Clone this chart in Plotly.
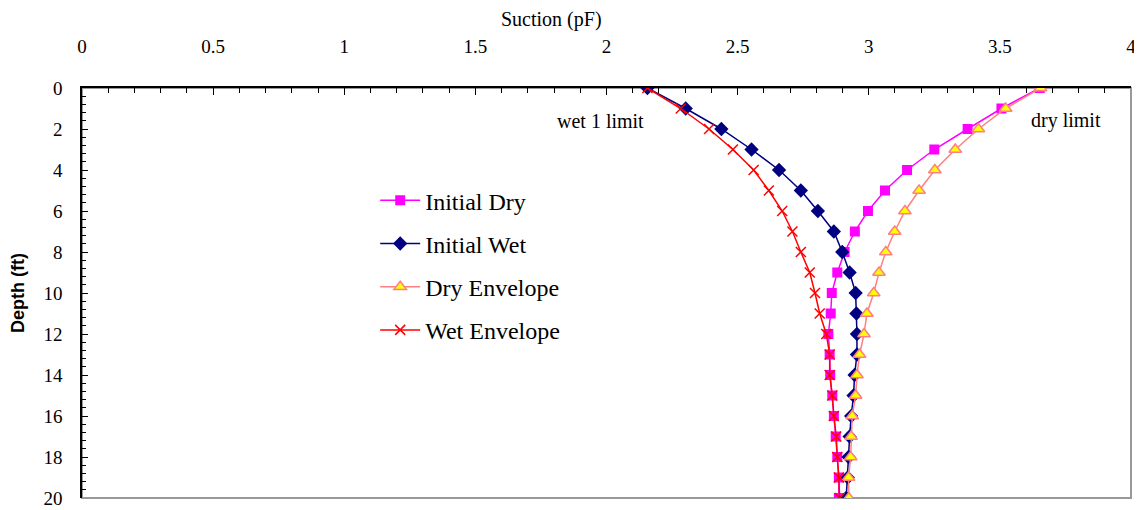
import plotly.graph_objects as go

depth = list(range(0, 21))

initial_dry = [3.652, 3.506, 3.377, 3.250, 3.146, 3.062, 2.997, 2.947, 2.908, 2.880,
               2.859, 2.855, 2.846, 2.851, 2.853, 2.861, 2.867, 2.874, 2.880, 2.886, 2.886]
initial_wet = [2.156, 2.302, 2.438, 2.553, 2.658, 2.741, 2.806, 2.867, 2.899, 2.927,
               2.950, 2.953, 2.955, 2.955, 2.946, 2.942, 2.933, 2.927, 2.923, 2.920, 2.914]
dry_envelope = [3.655, 3.522, 3.418, 3.330, 3.252, 3.192, 3.138, 3.099, 3.065, 3.039,
                3.019, 2.993, 2.982, 2.965, 2.955, 2.950, 2.937, 2.933, 2.931, 2.923, 2.924]
wet_envelope = [2.156, 2.283, 2.391, 2.482, 2.561, 2.619, 2.670, 2.709, 2.741, 2.775,
                2.795, 2.813, 2.838, 2.851, 2.851, 2.861, 2.867, 2.876, 2.880, 2.886, 2.889]

x_ticks = [0, 0.5, 1, 1.5, 2, 2.5, 3, 3.5, 4]
x_tick_text = ["0", "0.5", "1", "1.5", "2", "2.5", "3", "3.5", "4"]
y_ticks = [0, 2, 4, 6, 8, 10, 12, 14, 16, 18, 20]

serif = "Liberation Serif"
sans = "Liberation Sans"

fig = go.Figure()
fig.add_trace(go.Scatter(
    x=initial_dry, y=depth, name="Initial Dry", mode="lines+markers",
    line=dict(color="#FF00FF", width=1.5),
    marker=dict(symbol="square", size=10, color="#FF00FF"),
    legendgroup="a"))
fig.add_trace(go.Scatter(
    x=initial_wet, y=depth, name="Initial Wet", mode="lines+markers",
    line=dict(color="#000080", width=1.5),
    marker=dict(symbol="diamond", size=11, color="#000080"),
    legendgroup="b"))
fig.add_trace(go.Scatter(
    x=dry_envelope, y=depth, name="Dry Envelope", mode="lines+markers",
    line=dict(color="#FF8080", width=1.5),
    marker=dict(symbol="triangle-up", size=11, color="#FFFF00",
                line=dict(color="#FF8080", width=1.5)),
    legendgroup="c"))
fig.add_trace(go.Scatter(
    x=wet_envelope, y=depth, name="Wet Envelope", mode="lines+markers",
    line=dict(color="#FF0000", width=1.5),
    marker=dict(symbol="x-thin-open", size=10, color="#FF0000",
                line=dict(color="#FF0000", width=1.5)),
    legendgroup="d"))

fig.add_annotation(x=2.15, y=1.6, xref="x", yref="y", text="wet 1 limit",
                   showarrow=False, xanchor="right", yanchor="middle",
                   font=dict(family=serif, size=20, color="black"))
fig.add_annotation(x=3.61, y=1.6, xref="x", yref="y", text="dry limit",
                   showarrow=False, xanchor="left", yanchor="middle",
                   font=dict(family=serif, size=20, color="black"))
fig.add_annotation(x=0.4476, y=1, xref="paper", yref="paper", yshift=69,
                   text="Suction (pF)", showarrow=False,
                   xanchor="center", yanchor="middle",
                   font=dict(family=serif, size=20, color="black"))

fig.update_layout(
    width=1134, height=502,
    margin=dict(l=74, r=11, t=80, b=12, autoexpand=False),
    paper_bgcolor="white", plot_bgcolor="white",
    showlegend=True,
    legend=dict(x=0.2795, y=0.78, xanchor="left", yanchor="top",
                font=dict(family=serif, size=24, color="black"),
                bgcolor="rgba(0,0,0,0)", tracegroupgap=9,
                itemwidth=40),
    xaxis=dict(
        side="top", range=[0, 4], tickvals=x_ticks, ticktext=x_tick_text,
        ticks="inside", ticklen=7, tickcolor="black", tickwidth=1,
        minor=dict(dtick=0.1, ticks="inside", ticklen=5, tickcolor="black", tickwidth=1),
        showline=True, linecolor="black", linewidth=1.5, mirror=False,
        showgrid=False, zeroline=False, automargin=False,
        ticklabelstandoff=26,
        tickfont=dict(family=serif, size=19, color="black"),
    ),
    yaxis=dict(
        range=[20, 0], tickvals=y_ticks,
        ticks="inside", ticklen=6, tickcolor="black", tickwidth=1,
        minor=dict(dtick=0.4, ticks="inside", ticklen=4, tickcolor="black", tickwidth=1),
        showline=True, linecolor="black", linewidth=1.5,
        showgrid=False, zeroline=False, automargin=False,
        ticklabelstandoff=14,
        tickfont=dict(family=serif, size=19, color="black"),
        title=dict(text="<b>Depth (ft)</b>", standoff=15,
                   font=dict(family=sans, size=18, color="black")),
    ),
)

fig.add_shape(type="rect", xref="paper", yref="paper", x0=0, y0=0, x1=1, y1=1,
              line=dict(color="#999999", width=2), layer="below")

fig.write_html("out.html")
